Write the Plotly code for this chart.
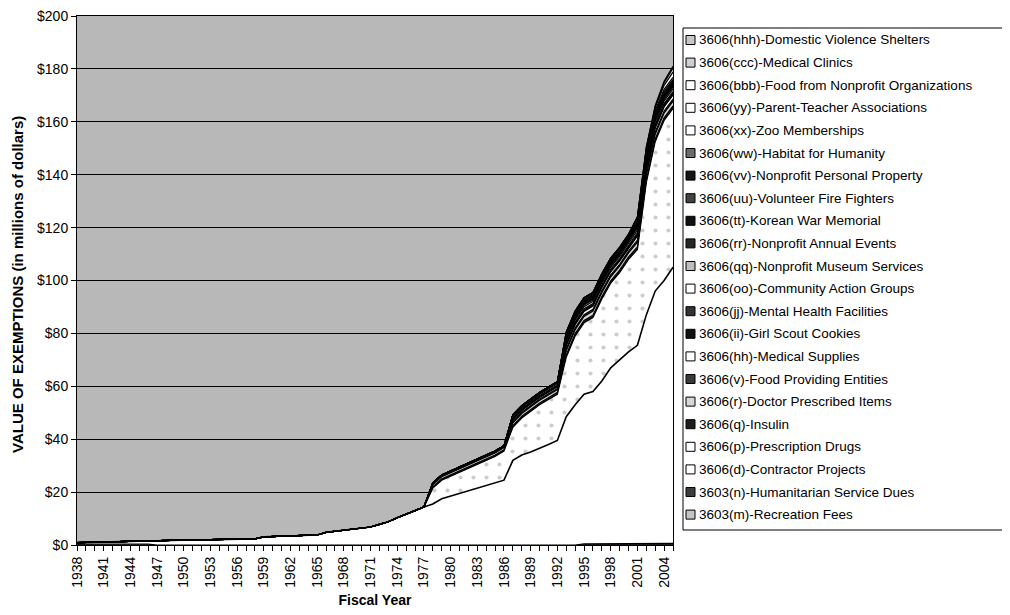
import plotly.graph_objects as go

# ---- data (millions of dollars, fiscal years 1938-2005) ----
YEARS = list(range(1938, 2006))

# 3603(m) Recreation Fees, 1938-1946
REC_FEES = [0.3, 0.3, 0.3, 0.3, 0.3, 0.3, 0.3, 0.3, 0.3]
# 3603(n) Humanitarian Service Dues, 1995-2005
HUMANITARIAN = [0.4, 0.4, 0.5, 0.5, 0.5, 0.5, 0.6, 0.6, 0.6, 0.6, 0.6]
# 3606(d) Contractor Projects, 1938-2005
CONTRACTOR = [
    0.6, 0.7, 0.8, 0.9, 1.0, 1.0, 1.1, 1.2, 1.3, 1.7,
    1.8, 1.8, 1.9, 1.9, 2.0, 2.0, 2.1, 2.1, 2.2, 2.2,
    2.3, 3.1, 3.2, 3.3, 3.4, 3.5, 3.6, 3.8, 4.8, 5.2,
    5.6, 6.0, 6.3, 6.8, 7.8, 8.8, 10.3, 11.8, 13.0, 14.4,
    15.5, 17.5, 18.5, 19.5, 20.5, 21.5, 22.5, 23.5, 24.5, 32.0,
    34.0, 35.2, 36.5, 38.0, 39.5, 48.5, 53.0, 56.6, 57.6, 61.5,
    66.5, 69.5, 72.5, 74.9, 86.4, 95.4, 99.4, 104.4,
]
# 3606(p) Prescription Drugs, 1978-2005
PRESCRIPTION = [
    6.0, 7.0, 7.5, 8.0, 8.5, 9.0, 9.5, 10.0, 11.0, 12.5,
    14.0, 15.3, 16.5, 17.0, 17.5, 22.5, 26.0, 27.0, 28.0, 31.0,
    32.0, 33.0, 35.0, 36.2, 50.0, 56.5, 60.5, 60.0,
]
# small exemptions, 1978-2005
INSULIN = [0.5, 0.5, 0.5, 0.5, 0.5, 0.5, 0.5, 0.5, 0.5,
           0.7, 0.7, 0.7, 0.7, 0.7, 0.7,
           0.9, 0.9, 0.9, 0.9, 0.9, 0.9, 0.9, 0.9,
           1.0, 1.0, 1.0, 1.0, 1.0]
DOCTOR_ITEMS = [0.8, 0.8, 0.8, 0.8, 0.8, 0.8, 0.8, 0.8, 0.8,
                1.0, 1.0, 1.0, 1.0, 1.0, 1.0,
                1.5, 1.5, 1.5, 1.5, 1.5, 1.5, 1.5, 1.5,
                1.8, 1.8, 1.8, 1.8, 1.8]
FOOD_ENTITIES = [0.4, 0.4, 0.4, 0.4, 0.4, 0.4, 0.4, 0.4, 0.4,
                 0.5, 0.5, 0.5, 0.5, 0.5, 0.5,
                 0.7, 0.7, 0.7, 0.7, 0.7, 0.7, 0.7, 0.7,
                 0.8, 0.8, 0.8, 0.8, 0.8]
MED_SUPPLIES = [0.3, 0.3, 0.3, 0.3, 0.3, 0.3, 0.3, 0.3, 0.3,
                0.6, 0.6, 0.6, 0.6, 0.6, 0.6,
                1.2, 1.2, 1.2, 1.2, 1.2, 1.2, 1.2, 1.2,
                1.5, 1.5, 1.5, 1.5, 1.5]
# 1987-2005
GIRL_SCOUT = [0.3, 0.3, 0.3, 0.3, 0.3, 0.3, 0.4, 0.4, 0.4, 0.4,
              0.4, 0.4, 0.4, 0.4, 0.5, 0.5, 0.5, 0.5, 0.5]
MENTAL_HEALTH = [0.4, 0.4, 0.4, 0.4, 0.4, 0.4, 0.6, 0.6, 0.6, 0.6,
                 0.6, 0.6, 0.6, 0.6, 0.8, 0.8, 0.8, 0.8, 0.8]
COMMUNITY_ACTION = [0.5, 0.5, 0.5, 0.5, 0.5, 0.5, 0.8, 0.8, 0.8, 0.8,
                    0.8, 0.8, 0.8, 0.8, 1.0, 1.0, 1.0, 1.0, 1.0]
MUSEUM = [0.4, 0.4, 0.4, 0.4, 0.4, 0.4, 0.6, 0.6, 0.6, 0.6,
          0.6, 0.6, 0.6, 0.6, 0.8, 0.8, 0.8, 0.8, 0.8]
ANNUAL_EVENTS = [0.3, 0.3, 0.3, 0.3, 0.3, 0.3, 0.5, 0.5, 0.5, 0.5,
                 0.5, 0.5, 0.5, 0.5, 0.6, 0.6, 0.6, 0.6, 0.6]
# 1993-2005
KOREAN_WAR = [0.2, 0.2, 0.2, 0.2, 0.2, 0.2, 0.2, 0.2, 0.2, 0.2, 0.2, 0.2, 0.2]
FIRE_FIGHTERS = [0.4, 0.4, 0.4, 0.4, 0.4, 0.4, 0.4, 0.4, 0.5, 0.5, 0.5, 0.5, 0.5]
PERSONAL_PROP = [0.5, 0.5, 0.5, 0.5, 0.5, 0.5, 0.5, 0.5, 0.6, 0.6, 0.6, 0.6, 0.6]
HABITAT = [0.3, 0.3, 0.3, 0.3, 0.3, 0.3, 0.3, 0.3, 0.4, 0.4, 0.4, 0.4, 0.4]
ZOO = [0.4, 0.4, 0.4, 0.4, 0.4, 0.4, 0.4, 0.4, 0.5, 0.5, 0.5, 0.5, 0.5]
PTA = [0.5, 0.5, 0.5, 0.5, 0.5, 0.5, 0.5, 0.5, 0.8, 0.8, 0.8, 0.8, 0.8]
# later additions
FOOD_NONPROFIT = [0.5, 1.0, 1.0, 1.5, 2.0]   # 2001-2005
MED_CLINICS = [0.5, 0.5, 1.0, 1.5]           # 2002-2005
DV_SHELTERS = [0.3, 0.5, 0.7]                # 2003-2005


def span(start, vals):
    """Place a series that starts in `start` on the full 1938-2005 axis (zero elsewhere)."""
    out = [0.0] * len(YEARS)
    i0 = YEARS.index(start)
    out[i0:i0 + len(vals)] = vals
    return out


# bottom of the stack first: (label, values, fill colour)
SERIES = [
    ("3603(m)-Recreation Fees", span(1938, REC_FEES), "#c4c4c4"),
    ("3603(n)-Humanitarian Service Dues", span(1995, HUMANITARIAN), "#3c3c3c"),
    ("3606(d)-Contractor Projects", CONTRACTOR, "#ffffff"),
    ("3606(p)-Prescription Drugs", span(1978, PRESCRIPTION), "#ffffff"),
    ("3606(q)-Insulin", span(1978, INSULIN), "#1e1e1e"),
    ("3606(r)-Doctor Prescribed Items", span(1978, DOCTOR_ITEMS), "#d6d6d6"),
    ("3606(v)-Food Providing Entities", span(1978, FOOD_ENTITIES), "#3a3a3a"),
    ("3606(hh)-Medical Supplies", span(1978, MED_SUPPLIES), "#ffffff"),
    ("3606(ii)-Girl Scout Cookies", span(1987, GIRL_SCOUT), "#111111"),
    ("3606(jj)-Mental Health Facilities", span(1987, MENTAL_HEALTH), "#333333"),
    ("3606(oo)-Community Action Groups", span(1987, COMMUNITY_ACTION), "#ffffff"),
    ("3606(qq)-Nonprofit Museum Services", span(1987, MUSEUM), "#bdbdbd"),
    ("3606(rr)-Nonprofit Annual Events", span(1987, ANNUAL_EVENTS), "#262626"),
    ("3606(tt)-Korean War Memorial", span(1993, KOREAN_WAR), "#111111"),
    ("3606(uu)-Volunteer Fire Fighters", span(1993, FIRE_FIGHTERS), "#444444"),
    ("3606(vv)-Nonprofit Personal Property", span(1993, PERSONAL_PROP), "#141414"),
    ("3606(ww)-Habitat for Humanity", span(1993, HABITAT), "#6a6a6a"),
    ("3606(xx)-Zoo Memberships", span(1993, ZOO), "#ffffff"),
    ("3606(yy)-Parent-Teacher Associations", span(1993, PTA), "#ffffff"),
    ("3606(bbb)-Food from Nonprofit Organizations", span(2001, FOOD_NONPROFIT), "#ffffff"),
    ("3606(ccc)-Medical Clinics", span(2002, MED_CLINICS), "#cfcfcf"),
    ("3606(hhh)-Domestic Violence Shelters", span(2003, DV_SHELTERS), "#c8c8c8"),
]

FONT = "Liberation Sans, Arial, sans-serif"

fig = go.Figure()
for name, vals, color in SERIES:
    extra = {}
    if name.startswith("3606(p)"):
        # sparse speckle, like the scanned pattern fill
        extra["fillpattern"] = dict(shape=".", fgcolor="#9a9a9a", bgcolor="#ffffff",
                                    size=13, solidity=0.08)
    fig.add_trace(
        go.Scatter(
            x=YEARS,
            y=vals,
            name=name,
            mode="lines",
            stackgroup="one",
            fillcolor=color,
            line=dict(color="#000000", width=1.6 if name.startswith("3606(d)") else 1.2),
            hovertemplate="%{x}: $%{y:.1f}M<extra>" + name + "</extra>",
            showlegend=False,
            **extra,
        )
    )

# ---- geometry: the page puts the figure 8px in from the top-left corner ----
OFF = 8
W, H = 1010 - OFF, 615 - OFF
# plot top kept a few px lower than the original so the "$200" label is not clipped
PL, PR, PT, PB = 77 - OFF, 673 - OFF, 16 - OFF, 545 - OFF


def px_x(px):
    """page pixel x -> paper coordinate"""
    return (px - OFF - PL) / (PR - PL)


def px_y(py):
    """page pixel y -> paper coordinate"""
    return (PB - (py - OFF)) / (PB - PT)


shapes = [
    dict(type="rect", xref="paper", yref="paper",
         x0=px_x(683), x1=px_x(1020), y0=px_y(530), y1=px_y(28),
         line=dict(color="#000000", width=1), fillcolor="#ffffff", layer="above"),
]
annotations = [
    dict(xref="paper", yref="paper", x=px_x(17), y=px_y(285), textangle=-90,
         xanchor="center", yanchor="middle", showarrow=False,
         text="<b>VALUE OF EXEMPTIONS (in millions of dollars)</b>",
         font=dict(family=FONT, size=15, color="#000000")),
]
for i, (name, vals, color) in enumerate(reversed(SERIES)):
    cy = 40 + i * 22.6
    shapes.append(dict(type="rect", xref="paper", yref="paper",
                       x0=px_x(686), x1=px_x(695), y0=px_y(cy + 4.5), y1=px_y(cy - 4.5),
                       line=dict(color="#000000", width=1), fillcolor=color, layer="above"))
    annotations.append(dict(xref="paper", yref="paper", x=px_x(697), y=px_y(cy),
                            xanchor="left", yanchor="middle", showarrow=False,
                            text=name, font=dict(family=FONT, size=13.5, color="#000000")))

fig.update_layout(
    width=W,
    height=H,
    paper_bgcolor="#ffffff",
    plot_bgcolor="#b8b8b8",
    margin=dict(l=PL, r=W - PR, t=PT, b=H - PB),
    font=dict(family=FONT, size=14, color="#000000"),
    showlegend=False,
    shapes=shapes,
    annotations=annotations,
    xaxis=dict(
        range=[1938, 2005],
        tick0=1938,
        dtick=3,
        tickangle=-90,
        ticks="outside",
        ticklen=5,
        tickcolor="#000000",
        minor=dict(dtick=1, ticks="outside", ticklen=5, tickcolor="#000000"),
        showgrid=False,
        showline=True,
        linecolor="#000000",
        linewidth=1,
        mirror=True,
        zeroline=False,
        automargin=False,
        ticklabeloverflow="allow",
        title=dict(text="<b>Fiscal Year</b>", font=dict(size=14), standoff=8),
    ),
    yaxis=dict(
        range=[0, 200],
        dtick=20,
        tickprefix="$",
        ticks="outside",
        ticklen=5,
        tickcolor="#000000",
        showgrid=True,
        gridcolor="#000000",
        gridwidth=1,
        showline=True,
        linecolor="#000000",
        linewidth=1,
        mirror=True,
        zeroline=False,
        automargin=False,
        ticklabeloverflow="allow",
    ),
)

fig.write_html("out.html")
